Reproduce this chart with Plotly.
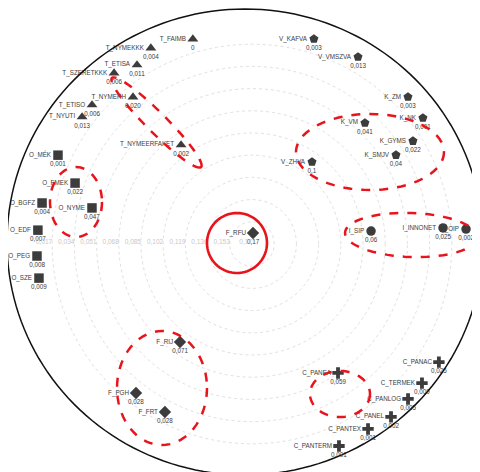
import numpy as np
import plotly.graph_objects as go

# page body has an 8 px margin: figure drawn at (8, 8) of the 480x472 window
OFF = 8
W, H = 480 - OFF, 472 - OFF

# ---------------- data ----------------
T_names = ["T_FAIMB", "T_NYMEKKK", "T_ETISA", "T_SZERETKKK", "T_NYMERH", "T_ETISO", "T_NYUTI", "T_NYMEERFAKET"]
T_theta = [106.1, 117.3, 122.7, 128.9, 129.0, 139.0, 143.2, 125.6]
T_r = [0.0067, 0.0011, 0.0070, 0.0018, 0.0252, 0.0077, 0.0075, 0.0767]
T_lab = ["0", "0,004", "0,011", "0,006", "0,020", "0,006", "0,013", "0,002"]

O_names = ["O_MÉK", "O_FMEK", "O_BGFZ", "O_NYME", "O_EDF", "O_PEG", "O_SZE"]
O_theta = [155.4, 161.0, 168.95, 167.3, 176.3, 183.2, 189.1]
O_r = [0.0066, 0.0267, 0.0062, 0.0444, 0.0057, 0.0051, 0.0048]
O_lab = ["0,001", "0,022", "0,004", "0,047", "0,007", "0,008", "0,009"]

V_names = ["V_KAFVA", "V_VMSZVA", "V_ZHVA"]
V_theta = [73.2, 60.45, 53.8]
V_r = [0.0060, 0.0054, 0.0922]
V_lab = ["0,003", "0,013", "0,1"]

K_names = ["K_ZM", "K_NK", "K_VM", "K_GYMS", "K_SMJV"]
K_theta = [43.3, 36.4, 47.0, 32.6, 31.7]
K_r = [0.0059, 0.0074, 0.0432, 0.0237, 0.0404]
K_lab = ["0,003", "0,001", "0,041", "0,022", "0,04"]

I_names = ["I_SIP", "I_INNONET", "I_OIP"]
I_theta = [6.2, 4.8, 4.0]
I_r = [0.0783, 0.0232, 0.0057]
I_lab = ["0,06", "0,025", "0,002"]

F_names = ["F_RFU", "F_RIJ", "F_PGH", "F_FRT"]
F_theta = [84.8, 233.7, 232.1, 242.6]
F_r = [0.1615, 0.0769, 0.0254, 0.0251]
F_lab = ["0,17", "0,071", "0,028", "0,028"]

C_names = ["C_PANAC", "C_PANEA", "C_TERMEK", "C_PANLOG", "C_PANEL", "C_PANTEX", "C_PANTERM"]
C_theta = [327.7, 303.7, 320.7, 315.2, 308.8, 302.1, 293.3]
C_r = [0.0007, 0.0513, 0.0018, 0.0016, 0.0001, 0.0028, 0.0016]
C_lab = ["0,025", "0,059", "0,009", "0,005", "0,002", "0,001", "0,001"]

tick_vals = [0, 0.017, 0.034, 0.051, 0.068, 0.085, 0.102, 0.119, 0.136, 0.153, 0.17]
tick_text = ["", "0,017", "0,034", "0,051", "0,068", "0,085", "0,102", "0,119", "0,136", "0,153", "0,17"]

groups = [
    (T_names, T_theta, T_r, T_lab, "triangle-up"),
    (O_names, O_theta, O_r, O_lab, "square"),
    (V_names, V_theta, V_r, V_lab, "pentagon"),
    (K_names, K_theta, K_r, K_lab, "pentagon"),
    (I_names, I_theta, I_r, I_lab, "circle"),
    (F_names, F_theta, F_r, F_lab, "diamond"),
    (C_names, C_theta, C_r, C_lab, "cross"),
]

MARK = "#3c3c3c"
TXT = "#3c3c3c"
FONT = "Liberation Sans, Arial, sans-serif"

fig = go.Figure()
for names, th, rr, lab, sym in groups:
    fig.add_trace(go.Scatterpolar(
        r=rr, theta=th, mode="markers+text", text=names,
        textposition="middle left",
        textfont=dict(family=FONT, size=6.3, color=TXT),
        marker=dict(symbol=sym, size=9.5, color=MARK),
        cliponaxis=False, showlegend=False, hoverinfo="skip"))
    fig.add_trace(go.Scatterpolar(
        r=rr, theta=th, mode="markers+text", text=lab,
        textposition="bottom center",
        textfont=dict(family=FONT, size=6.3, color=TXT),
        marker=dict(size=8, opacity=0),
        cliponaxis=False, showlegend=False, hoverinfo="skip"))

# ---------------- overlay shapes (reference-pixel helpers) ----------------
def px(x):
    return (x - OFF) / W

def py(y):
    return 1 - (y - OFF) / H

def ellipse_path(cx, cy, a, b, rot_deg=0.0, n=72):
    t = np.linspace(0, 2 * np.pi, n, endpoint=False)
    c, s = np.cos(np.radians(rot_deg)), np.sin(np.radians(rot_deg))
    xs = cx + a * np.cos(t) * c - b * np.sin(t) * s
    ys = cy + a * np.cos(t) * s + b * np.sin(t) * c
    pts = [f"{px(x):.5f},{py(y):.5f}" for x, y in zip(xs, ys)]
    return "M " + " L ".join(pts) + " Z"

RED = "#e8141c"
shapes = []
shapes.append(dict(type="path", xref="paper", yref="paper",
                   path=ellipse_path(245, 242, 238, 233, 0, 180),
                   line=dict(color="#111111", width=1.5), layer="above"))
dashed = [
    (156.5, 122.5, 63, 10, 45),
    (370, 152, 74, 38, 0),
    (411, 235, 66, 22, 2),
    (76, 202, 26, 35, 0),
    (162, 388, 45, 57, 0),
    (340, 394, 30, 23, 0),
]
for cx, cy, a, b, rot in dashed:
    shapes.append(dict(type="path", xref="paper", yref="paper",
                       path=ellipse_path(cx, cy, a, b, rot),
                       line=dict(color=RED, width=2.5, dash="dash"), layer="above"))
shapes.append(dict(type="path", xref="paper", yref="paper",
                   path=ellipse_path(237, 243, 30, 30, 0),
                   line=dict(color=RED, width=2.6), layer="above"))

# polar centre (252, 244) and radius 222 in reference pixels
CX, CY, R = 252 - OFF, 244 - OFF, 222
fig.update_layout(
    width=W, height=H,
    margin=dict(l=0, r=0, t=0, b=0),
    paper_bgcolor="white",
    plot_bgcolor="white",
    font=dict(family=FONT),
    shapes=shapes,
    polar=dict(
        domain=dict(x=[(CX - R) / W, (CX + R) / W],
                    y=[(H - CY - R) / H, (H - CY + R) / H]),
        bgcolor="white",
        radialaxis=dict(range=[0.17, 0], tickvals=tick_vals, ticktext=tick_text,
                        angle=180, tickangle=180, showline=False, ticks="",
                        gridcolor="#e0e0e0", griddash="dot", gridwidth=1,
                        tickfont=dict(family=FONT, size=6.5, color="#c8c8c8")),
        angularaxis=dict(showgrid=False, showline=False, showticklabels=False,
                         ticks="", direction="counterclockwise", rotation=0),
    ),
)

fig.write_html("out.html")
